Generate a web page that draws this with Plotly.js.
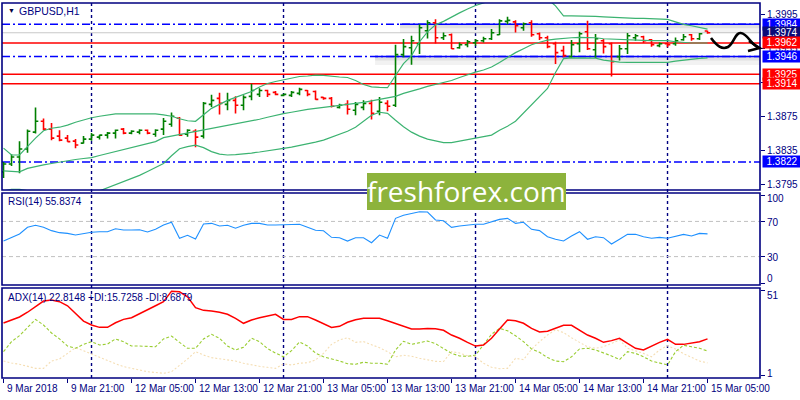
<!DOCTYPE html>
<html><head><meta charset="utf-8">
<script src="https://cdn.plot.ly/plotly-3.0.1.min.js"></script>
<style>html,body{margin:0;padding:0;background:#fff}#chart{width:800px;height:400px}</style>
</head><body><div id="chart"></div>
<script>
// ---- categories (hourly bars) ----
const sessions = [["9 Mar",13,23],["12 Mar",0,23],["13 Mar",0,23],["14 Mar",0,23],["15 Mar",0,5]];
const times = [];
sessions.forEach(([d,a,b]) => { for (let h=a; h<=b; h++) times.push(d + " " + String(h).padStart(2,"0") + ":00"); });

const tickLabels = ["9 Mar 2018","9 Mar 21:00","12 Mar 05:00","12 Mar 13:00","12 Mar 21:00","13 Mar 05:00","13 Mar 13:00","13 Mar 21:00","14 Mar 05:00","14 Mar 13:00","14 Mar 21:00","15 Mar 05:00"];
const tickIdx = [0,8,16,24,32,40,48,56,64,72,80,88];

// ---- GBPUSD H1 OHLC ----
const open = [1.38102,1.38195,1.38277,1.38371,1.38570,1.38698,1.38605,1.38523,1.38499,1.38464,
1.38441,1.38488,1.38511,1.38535,1.38558,1.38605,1.38558,1.38570,1.38593,1.38546,
1.38605,1.38663,1.38733,1.38546,1.38581,1.38523,1.38897,1.38967,1.38897,1.38944,
1.38886,1.38991,1.39014,1.39061,1.39038,1.39003,1.39003,1.39026,1.39061,1.39049,
1.38979,1.38967,1.38862,1.38897,1.38827,1.38862,1.38909,1.38815,1.38909,1.38886,
1.39482,1.39564,1.39611,1.39763,1.39857,1.39681,1.39716,1.39564,1.39599,1.39623,
1.39646,1.39669,1.39716,1.39874,1.39868,1.39798,1.39857,1.39728,1.39681,1.39611,
1.39529,1.39459,1.39611,1.39751,1.39540,1.39646,1.39611,1.39459,1.39552,1.39681,
1.39693,1.39658,1.39588,1.39611,1.39611,1.39658,1.39716,1.39669,1.39760];
const high = [1.38219,1.38309,1.38464,1.38601,1.38859,1.38730,1.38678,1.38593,1.38535,1.38488,
1.38526,1.38561,1.38538,1.38573,1.38601,1.38620,1.38593,1.38605,1.38601,1.38605,
1.38737,1.38800,1.38749,1.38605,1.38605,1.38924,1.39011,1.39034,1.39034,1.38991,
1.39003,1.39139,1.39088,1.39069,1.39053,1.39022,1.39053,1.39093,1.39067,1.39061,
1.38983,1.38983,1.38905,1.38944,1.38924,1.38944,1.38952,1.38983,1.38944,1.39599,
1.39666,1.39705,1.39841,1.39888,1.39900,1.39743,1.39731,1.39626,1.39654,1.39666,
1.39693,1.39783,1.39900,1.39927,1.39888,1.39860,1.39888,1.39743,1.39705,1.39634,
1.39588,1.39654,1.39751,1.39880,1.39724,1.39666,1.39626,1.39596,1.39736,1.39724,
1.39705,1.39666,1.39626,1.39626,1.39685,1.39724,1.39724,1.39736,1.39762];
const low = [1.38031,1.38172,1.38086,1.38327,1.38554,1.38593,1.38476,1.38464,1.38456,1.38379,
1.38437,1.38468,1.38484,1.38496,1.38496,1.38546,1.38546,1.38546,1.38546,1.38515,
1.38535,1.38632,1.38526,1.38515,1.38391,1.38496,1.38866,1.38777,1.38827,1.38788,
1.38827,1.38944,1.38983,1.38983,1.39003,1.38991,1.38983,1.39003,1.38991,1.38952,
1.38952,1.38859,1.38847,1.38777,1.38769,1.38827,1.38718,1.38769,1.38815,1.38866,
1.39451,1.39362,1.39490,1.39673,1.39614,1.39654,1.39549,1.39552,1.39568,1.39588,
1.39626,1.39654,1.39713,1.39841,1.39743,1.39763,1.39693,1.39654,1.39556,1.39373,
1.39451,1.39444,1.39509,1.39537,1.39444,1.39497,1.39225,1.39412,1.39490,1.39646,
1.39619,1.39576,1.39568,1.39568,1.39588,1.39646,1.39646,1.39654,1.39728];
const close = [1.38195,1.38277,1.38371,1.38581,1.38698,1.38605,1.38499,1.38476,1.38458,1.38418,
1.38488,1.38535,1.38535,1.38558,1.38593,1.38558,1.38581,1.38593,1.38558,1.38593,
1.38698,1.38757,1.38535,1.38593,1.38511,1.38909,1.38944,1.38909,1.38944,1.38886,
1.38979,1.39061,1.39061,1.39014,1.39014,1.39014,1.39038,1.39073,1.39014,1.38956,
1.38967,1.38874,1.38886,1.38839,1.38897,1.38909,1.38792,1.38921,1.38874,1.39482,
1.39576,1.39646,1.39798,1.39857,1.39681,1.39705,1.39552,1.39599,1.39634,1.39646,
1.39669,1.39740,1.39880,1.39886,1.39822,1.39845,1.39716,1.39681,1.39576,1.39506,
1.39471,1.39599,1.39728,1.39552,1.39669,1.39576,1.39400,1.39552,1.39705,1.39705,
1.39646,1.39599,1.39611,1.39599,1.39646,1.39693,1.39669,1.39728,1.39740];

// ---- Bollinger bands ----
const bbUpper = [1.38382,1.38301,1.38301,1.38406,1.38499,1.38587,1.38616,1.38628,1.38652,1.38687,
1.38716,1.38739,1.38757,1.38769,1.38786,1.38786,1.38786,1.38786,1.38786,1.38786,
1.38774,1.38757,1.38728,1.38704,1.38698,1.38769,1.38850,1.38897,1.38944,1.38979,
1.39014,1.39049,1.39102,1.39143,1.39166,1.39184,1.39201,1.39225,1.39231,1.39240,
1.39237,1.39225,1.39219,1.39213,1.39178,1.39131,1.39102,1.39096,1.39093,1.39237,
1.39377,1.39471,1.39634,1.39751,1.39833,1.39874,1.39927,1.39974,1.40020,1.40061,
1.40091,1.40126,1.40161,1.40184,1.40208,1.40208,1.40196,1.40173,1.40137,1.40056,
1.39939,1.39939,1.39939,1.39939,1.39933,1.39927,1.39921,1.39915,1.39915,1.39909,
1.39909,1.39903,1.39903,1.39898,1.39868,1.39839,1.39822,1.39798,1.39783];
const bbMid = [1.38113,1.38107,1.38102,1.38143,1.38166,1.38184,1.38201,1.38219,1.38230,1.38248,
1.38260,1.38271,1.38295,1.38318,1.38341,1.38365,1.38388,1.38412,1.38435,1.38458,
1.38505,1.38523,1.38540,1.38558,1.38575,1.38593,1.38611,1.38628,1.38646,1.38669,
1.38687,1.38698,1.38722,1.38745,1.38769,1.38788,1.38804,1.38824,1.38839,1.38850,
1.38862,1.38874,1.38880,1.38891,1.38903,1.38921,1.38938,1.38956,1.38967,1.38991,
1.39026,1.39049,1.39079,1.39108,1.39131,1.39149,1.39178,1.39213,1.39248,1.39277,
1.39301,1.39336,1.39389,1.39447,1.39506,1.39552,1.39599,1.39628,1.39652,1.39664,
1.39675,1.39681,1.39685,1.39685,1.39681,1.39669,1.39664,1.39658,1.39654,1.39652,
1.39650,1.39648,1.39646,1.39646,1.39634,1.39623,1.39619,1.39619,1.39619];
const bbLower = [1.37879,1.37897,1.37897,1.37879,1.37862,1.37850,1.37844,1.37838,1.37838,1.37844,
1.37850,1.37856,1.37879,1.37914,1.37950,1.37985,1.38020,1.38061,1.38107,1.38154,
1.38201,1.38292,1.38374,1.38400,1.38418,1.38388,1.38341,1.38312,1.38301,1.38306,
1.38312,1.38324,1.38336,1.38353,1.38371,1.38379,1.38394,1.38412,1.38429,1.38453,
1.38476,1.38511,1.38546,1.38581,1.38628,1.38698,1.38769,1.38804,1.38792,1.38710,
1.38634,1.38570,1.38523,1.38488,1.38464,1.38447,1.38447,1.38464,1.38482,1.38499,
1.38517,1.38535,1.38593,1.38640,1.38698,1.38792,1.38897,1.38991,1.39084,1.39272,
1.39435,1.39444,1.39444,1.39444,1.39441,1.39418,1.39406,1.39394,1.39392,1.39392,
1.39392,1.39392,1.39392,1.39392,1.39406,1.39418,1.39430,1.39438,1.39444];

// ---- RSI(14) ----
const rsi = [47.7,51.9,55.7,63.3,65.6,63.3,59.5,57.2,56.4,54.5,
56.4,57.6,58.3,58.3,61.7,60.2,60.2,60.6,58.0,61.0,
65.9,69.0,50.8,54.2,50.0,67.0,67.8,64.8,65.6,62.2,
65.6,67.8,67.8,65.9,65.9,65.9,65.9,66.7,63.3,59.9,
59.4,51.9,51.5,47.7,51.5,51.5,45.8,54.5,50.8,73.5,
76.9,78.8,81.0,80.7,71.6,70.8,63.3,64.8,65.9,66.7,
66.7,69.7,72.3,73.5,67.8,69.0,61.0,59.5,52.6,49.7,
47.7,53.4,58.3,49.7,52.6,51.5,44.3,49.7,55.3,55.3,
52.6,50.8,51.9,50.8,53.4,55.3,53.4,56.4,55.8374];

// ---- ADX(14) ----
const adx = [32.2,33.8,35.7,38.5,41.7,45.1,45.7,44.7,42.3,37.9,
33.3,31.0,29.6,29.6,32.3,34.3,35.3,37.6,39.8,42.3,
44.7,50.9,50.5,47.6,41.2,39.6,39.2,38.5,37.3,34.9,
32.0,33.9,35.3,36.3,37.3,34.3,34.3,35.9,35.9,33.9,
31.6,29.6,30.2,32.6,34.1,34.9,34.9,34.9,33.5,32.0,
30.2,28.6,28.6,29.0,28.8,27.9,25.1,23.2,20.8,18.6,
19.2,23.2,28.6,33.9,33.5,32.0,29.0,26.9,27.3,29.2,
30.8,30.8,27.9,25.1,23.2,20.8,21.8,23.2,20.2,17.3,
16.3,18.6,20.8,22.6,19.6,19.6,20.2,21.2,22.8148];
const plusDI = [15.3,21.2,24.7,29.4,34.3,31.0,26.3,22.8,18.6,17.3,
19.6,21.2,19.2,19.8,22.8,21.2,18.6,18.6,18.2,18.2,
22.8,24.5,20.8,17.3,17.3,22.8,25.5,23.2,18.6,16.3,
17.9,23.2,21.2,17.1,14.5,12.3,15.9,21.0,18.6,14.5,
12.3,11.2,9.8,8.2,7.9,9.1,8.5,8.5,7.9,16.3,
21.4,19.6,20.6,21.6,20.0,17.3,14.3,12.8,12.6,13.3,
19.2,25.5,29.0,27.6,24.7,21.2,16.9,14.9,11.8,9.8,
9.4,12.3,16.9,17.3,16.3,14.7,12.8,10.6,15.3,14.3,
12.3,9.8,8.6,7.5,15.3,19.1,18.2,17.3,15.7258];
const minusDI = [9.8,8.6,7.9,6.5,5.5,5.5,9.8,11.0,14.3,17.6,
15.9,13.9,12.0,9.8,8.2,6.5,5.7,4.5,3.5,2.9,
2.6,3.5,7.1,11.0,15.3,13.3,11.8,11.2,10.4,9.8,
8.5,7.5,6.7,6.1,5.5,8.1,7.5,8.5,8.8,10.4,
14.3,19.6,22.2,23.5,20.8,21.2,19.6,17.6,15.3,12.3,
13.2,12.6,11.4,10.4,9.6,9.5,15.3,14.5,12.9,12.3,
8.5,6.1,5.3,5.5,11.4,10.6,16.7,21.2,25.1,28.2,
26.5,23.5,20.8,18.1,17.3,18.2,20.2,22.2,17.3,15.9,
14.3,12.3,16.3,18.8,16.9,14.1,11.8,9.8,8.6879];

// ---- horizontal levels ----
const blueLevels = [1.3984, 1.3946, 1.3822];
const redLevels = [1.3962, 1.3925, 1.3914];
const bidPrice = 1.3974;
const priceTicks = [1.3795, 1.3835, 1.3875, 1.3915, 1.3955, 1.3995];
const priceTickText = ["1.3795", "1.3835", "1.3875", "", "1.3955", "1.3995"];
const rsiLevels = [30, 70];
const rsiTicks = [0, 30, 70, 100];
const adxTicks = [1, 51];

// ---- drawing ----
const NAVY = '#000080';
const FONT = 'Liberation Sans, Arial, sans-serif';
const xs = times.map((_, i) => i);
const daySeps = times.map((t, i) => t.endsWith(' 00:00') ? i : -1).filter(i => i >= 0);
const lastIdx = xs[xs.length - 1];
const XR = [-0.19, 94.56];
const PX = 0.0001177; // price per pixel on main panel (decoration offsets)
const px = x => (x - 2) / 758, py = y => (378 - y) / 375;

const traces = [
  {type:'scatter', mode:'lines', x:xs, y:bbUpper, line:{color:'#3CB371', width:1.2}, yaxis:'y', hoverinfo:'skip'},
  {type:'scatter', mode:'lines', x:xs, y:bbMid, line:{color:'#3CB371', width:1.2}, yaxis:'y', hoverinfo:'skip'},
  {type:'scatter', mode:'lines', x:xs, y:bbLower, line:{color:'#3CB371', width:1.2}, yaxis:'y', hoverinfo:'skip'},
  {type:'ohlc', x:xs, open:open, high:high, low:low, close:close, yaxis:'y', tickwidth:0.35,
   increasing:{line:{color:'#007F00', width:1.6}}, decreasing:{line:{color:'#FF0000', width:1.6}}, hoverinfo:'skip'},
  {type:'scatter', mode:'lines', x:xs, y:rsi, line:{color:'#1E90FF', width:1.1}, yaxis:'y2', hoverinfo:'skip'},
  {type:'scatter', mode:'lines', x:xs, y:minusDI, line:{color:'#F5DEB3', width:1.1, dash:'2px,2px'}, yaxis:'y3', hoverinfo:'skip'},
  {type:'scatter', mode:'lines', x:xs, y:plusDI, line:{color:'#9ACD32', width:1.1, dash:'3px,2px'}, yaxis:'y3', hoverinfo:'skip'},
  {type:'scatter', mode:'lines', x:xs, y:adx, line:{color:'#FF0000', width:1.5}, yaxis:'y3', hoverinfo:'skip'}
];

const shapes = [];
daySeps.forEach(i => shapes.push({type:'line', xref:'x', yref:'paper', x0:i, x1:i, y0:0, y1:1, layer:'below',
  line:{color:NAVY, width:1.4, dash:'3px,3px'}}));
shapes.push({type:'line', xref:'paper', yref:'y', x0:0, x1:1, y0:bidPrice, y1:bidPrice, layer:'below', line:{color:'#C8C8C8', width:1.2}});
redLevels.forEach(v => shapes.push({type:'line', xref:'paper', yref:'y', x0:0, x1:1, y0:v, y1:v, layer:'below', line:{color:'#FF0000', width:1.5}}));
blueLevels.forEach(v => shapes.push({type:'line', xref:'paper', yref:'y', x0:0, x1:1, y0:v, y1:v, layer:'below', line:{color:'#0000FF', width:1.5, dash:'8px,3px,2px,3px'}}));
[[blueLevels[0], 49.56], [blueLevels[1], 46.44]].forEach(([v, x0]) => {
  shapes.push({type:'line', xref:'x', yref:'y', x0:x0, x1:XR[1], y0:v - 4*PX, y1:v - 4*PX, layer:'below', line:{color:'rgba(0,0,0,0.05)', width:9}});
  shapes.push({type:'line', xref:'x', yref:'y', x0:x0, x1:XR[1], y0:v - 2*PX, y1:v - 2*PX, layer:'below', line:{color:'rgba(0,0,0,0.07)', width:4}});
  shapes.push({type:'line', xref:'x', yref:'y', x0:x0, x1:XR[1], y0:v, y1:v, layer:'below', line:{color:'#0000FF', width:1.6}});
});
rsiLevels.forEach(v => shapes.push({type:'line', xref:'paper', yref:'y2', x0:0, x1:1, y0:v, y1:v, layer:'below', line:{color:'#C0C0C0', width:1, dash:'4px,3px'}}));
['y domain','y2 domain','y3 domain'].forEach(r => shapes.push({type:'rect', xref:'paper', yref:r, x0:0, x1:1, y0:0, y1:1, layer:'above', line:{color:NAVY, width:1.6}}));
const P = (x, y) => px(x) + ',' + py(y);
shapes.push({type:'path', xref:'paper', yref:'paper', layer:'above', line:{color:'#000', width:2.6},
  path:'M' + P(711,38) + ' C' + P(717,46) + ' ' + P(722,50) + ' ' + P(728,47) + ' C' + P(734,44) + ' ' + P(735,32) + ' ' + P(741,33) +
       ' C' + P(748,34) + ' ' + P(751,45) + ' ' + P(759,48)});
shapes.push({type:'path', xref:'paper', yref:'paper', layer:'above', line:{color:'#000', width:2.6},
  path:'M' + P(749,41) + ' L' + P(759.5,48) + ' L' + P(748,51)});
shapes.push({type:'rect', xref:'paper', yref:'paper', x0:px(367), x1:px(566), y0:py(210), y1:py(173), layer:'above', fillcolor:'#8DB33C', line:{width:0}});

const annotations = [];
tickIdx.forEach((i, k) => annotations.push({xref:'x', yref:'paper', x:i, y:0, xanchor:'left', yanchor:'top', xshift:1, yshift:-3,
  text:tickLabels[k], showarrow:false, font:{family:FONT, size:10, color:NAVY}}));
const box = (v, color) => annotations.push({xref:'paper', yref:'y', x:1, y:v, xanchor:'left', yanchor:'middle', xshift:2,
  text:v.toFixed(4), showarrow:false, bgcolor:color, width:38, height:11, borderpad:0, font:{family:FONT, size:10, color:'#fff'}});
box(blueLevels[0], '#0000FF');
box(bidPrice, '#0B0B78');
redLevels.forEach(v => box(v, '#FF0000'));
box(blueLevels[1], '#0000FF');
box(blueLevels[2], '#0000FF');
// sub-window scale labels (kept inside each window, as in the terminal)
const sideLabel = (txt, yPix) => annotations.push({xref:'paper', yref:'paper', x:1, y:py(yPix), xanchor:'left', yanchor:'middle', xshift:5,
  text:txt, showarrow:false, font:{family:FONT, size:10, color:NAVY}});
[[100,199],[70,222],[30,257],[0,278]].forEach(([v, yp]) => sideLabel(String(v), yp));
[[51,295],[1,373]].forEach(([v, yp]) => sideLabel(String(v), yp));
annotations.push({xref:'paper', yref:'paper', x:px(6), y:py(10.5), xanchor:'left', yanchor:'middle', text:'▼', showarrow:false, font:{family:FONT, size:7, color:'#000040'}});
annotations.push({xref:'paper', yref:'paper', x:px(17), y:py(11), xanchor:'left', yanchor:'middle', text:'GBPUSD,H1', showarrow:false, font:{family:FONT, size:10.5, color:NAVY}});
annotations.push({xref:'paper', yref:'paper', x:px(6), y:py(202), xanchor:'left', yanchor:'middle', text:'RSI(14) ' + rsi[lastIdx].toFixed(4), showarrow:false, font:{family:FONT, size:10, color:NAVY}});
annotations.push({xref:'paper', yref:'paper', x:px(6), y:py(297), xanchor:'left', yanchor:'middle',
  text:'ADX(14) ' + adx[lastIdx].toFixed(4) + ' +DI:' + plusDI[lastIdx].toFixed(4) + ' -DI:' + minusDI[lastIdx].toFixed(4), showarrow:false, font:{family:FONT, size:10, color:NAVY}});
annotations.push({xref:'paper', yref:'paper', x:px(466), y:py(191), xanchor:'center', yanchor:'middle', text:'freshforex.com', showarrow:false, font:{family:'Open Sans, sans-serif', size:28, color:'#fff'}});

const yCommon = {side:'right', anchor:'x', ticks:'outside', ticklen:4, tickcolor:NAVY, tickwidth:1, showgrid:false, zeroline:false, showline:false, fixedrange:true,
  tickfont:{family:FONT, size:10, color:NAVY}};
const layout = {
  width:800, height:400, margin:{l:2, r:40, t:3, b:22, pad:0},
  paper_bgcolor:'#fff', plot_bgcolor:'#fff', showlegend:false, hovermode:false,
  xaxis:{type:'linear', range:XR, anchor:'y3', showgrid:false, zeroline:false, showline:false, ticks:'outside', ticklen:4, tickcolor:NAVY,
    tickvals:tickIdx, showticklabels:false, rangeslider:{visible:false}, fixedrange:true},
  yaxis:Object.assign({}, yCommon, {domain:[0.50133, 1], range:[1.37889, 1.40090], tickvals:priceTicks, ticktext:priceTickText}),
  yaxis2:Object.assign({}, yCommon, {domain:[0.248, 0.4933], range:[-2.27, 102.27], tickvals:rsiTicks, showticklabels:false}),
  yaxis3:Object.assign({}, yCommon, {domain:[0, 0.24], range:[-0.18, 52.76], tickvals:adxTicks, showticklabels:false}),
  shapes:shapes, annotations:annotations
};
Plotly.newPlot('chart', traces, layout, {staticPlot:true, displayModeBar:false});
</script>
</body></html>
